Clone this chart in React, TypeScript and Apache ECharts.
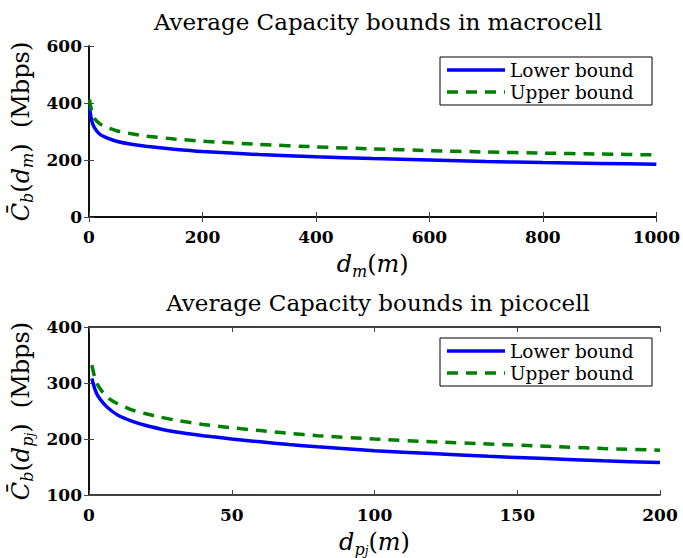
import React, { useEffect, useRef } from "react";
import * as echarts from "echarts";

// ---- Data ----
const macroX = [1, 2, 5, 10, 20, 35, 50, 75, 100, 150, 200, 300, 400, 500, 600, 700, 800, 900, 1000];
const macroLower = [390, 370, 336, 312, 289, 275, 265, 255, 248, 238, 230, 219, 211, 205, 200, 195, 191, 188, 185];
const macroUpper = [412, 398, 370, 345, 326, 312, 302, 292, 284, 274, 266, 255, 246, 239, 233, 228, 224, 221, 218];

const picoX = [1, 2, 3, 5, 7, 10, 15, 20, 25, 30, 40, 50, 60, 70, 80, 100, 120, 140, 160, 180, 200];
const picoLower = [308, 290, 278, 264, 254, 243, 232, 224, 218, 213, 206, 200, 195, 190, 186, 179, 174, 169, 165, 161, 158];
const picoUpper = [332, 310, 297, 282, 272, 263, 252, 245, 239, 234, 226, 220, 215, 210, 206, 200, 195, 191, 187, 183, 180];

const seriesNames = ["Lower bound", "Upper bound"];
const titles = ["Average Capacity bounds in macrocell", "Average Capacity bounds in picocell"];
const macroXTicks = { min: 0, max: 1000, interval: 200 };
const macroYTicks = { min: 0, max: 600, interval: 200 };
const picoXTicks = { min: 0, max: 200, interval: 50 };
const picoYTicks = { min: 100, max: 400, interval: 100 };

const zip = (xs: number[], ys: number[]) => xs.map((x, i) => [x, ys[i]]);

const SERIF = "DejaVu Serif";
const BLUE = "#0000ff";
const GREEN = "#008000";
const DASH = [11, 8];

const rich = {
  ci: { fontFamily: SERIF, fontStyle: "italic", fontSize: 24, lineHeight: 30, verticalAlign: "middle", color: "#000" },
  n: { fontFamily: SERIF, fontSize: 24, lineHeight: 30, verticalAlign: "middle", color: "#000" },
  sb: { fontFamily: SERIF, fontStyle: "italic", fontSize: 16, lineHeight: 17, verticalAlign: "bottom", color: "#000" },
  ssb: { fontFamily: SERIF, fontStyle: "italic", fontSize: 12, lineHeight: 11, verticalAlign: "bottom", color: "#000" },
};

const tickStyle = { inside: true, length: 5, lineStyle: { color: "#444", width: 1 } };
const lineStyleAxis = { show: true, lineStyle: { color: "#000", width: 1.5 } };
const labelStyle = { fontFamily: SERIF, fontWeight: "bold", fontSize: 17, color: "#000", formatter: (v: number) => String(v) };

function mainX(gridIndex: number, t: any, name: string) {
  return {
    type: "value", gridIndex, position: "bottom", ...t,
    axisLine: lineStyleAxis, axisTick: tickStyle, splitLine: { show: false },
    axisLabel: { ...labelStyle, margin: 11 },
    name, nameLocation: "middle", nameGap: 32, nameTextStyle: { rich },
  };
}
function mirrorX(gridIndex: number, t: any) {
  return {
    type: "value", gridIndex, position: "top", ...t,
    axisLine: lineStyleAxis, axisTick: tickStyle, splitLine: { show: false }, axisLabel: { show: false },
  };
}
function mainY(gridIndex: number, t: any, name: string) {
  return {
    type: "value", gridIndex, position: "left", ...t,
    axisLine: lineStyleAxis, axisTick: tickStyle, splitLine: { show: false },
    axisLabel: { ...labelStyle, margin: 7 },
    name, nameLocation: "middle", nameRotate: 90, nameGap: 50, nameTextStyle: { rich },
  };
}
function mirrorY(gridIndex: number, t: any) {
  return {
    type: "value", gridIndex, position: "right", ...t,
    axisLine: lineStyleAxis, axisTick: tickStyle, splitLine: { show: false }, axisLabel: { show: false },
  };
}

function lineSeries(name: string, data: number[][], axisIdx: number, dashed: boolean) {
  return {
    type: "line", name, data, xAxisIndex: axisIdx, yAxisIndex: axisIdx,
    showSymbol: false, symbol: "none", smooth: 0.2,
    lineStyle: dashed
      ? { color: GREEN, width: 3.5, type: DASH }
      : { color: BLUE, width: 3.5, type: "solid" },
    itemStyle: { color: dashed ? GREEN : BLUE },
  };
}

function legendText(text: string, y: number) {
  return {
    type: "text", x: 510, y,
    style: { text, fontFamily: SERIF, fontSize: 18.5, lineHeight: 21, fill: "#000", textVerticalAlign: "middle", verticalAlign: "middle" },
  };
}

function legendGraphic(top: number) {
  const rows = [top + 13, top + 35];
  return {
    type: "group", z: 100,
    children: [
      { type: "rect", shape: { x: 440, y: top, width: 212, height: 48 }, style: { fill: "#fff", stroke: "#000", lineWidth: 1 } },
      { type: "line", shape: { x1: 447, y1: rows[0], x2: 505, y2: rows[0] }, style: { stroke: BLUE, lineWidth: 3.5 } },
      { type: "line", shape: { x1: 447, y1: rows[1], x2: 505, y2: rows[1] }, style: { stroke: GREEN, lineWidth: 3.5, lineDash: DASH } },
      legendText(seriesNames[0], rows[0]),
      legendText(seriesNames[1], rows[1]),
    ],
  };
}

function titleGraphic(text: string, y: number) {
  return {
    type: "text", x: 378, y,
    style: { text, fontFamily: SERIF, fontSize: 23, fill: "#000", textAlign: "center", textVerticalAlign: "middle", align: "center", verticalAlign: "middle" },
  };
}

export default function App() {
  const ref = useRef<HTMLDivElement>(null);
  useEffect(() => {
    if (!ref.current) return;
    const chart = echarts.init(ref.current, undefined, { renderer: "svg" });
    chart.setOption({
      animation: false,
      backgroundColor: "#fff",
      grid: [
        { left: 89, right: 23, top: 46, height: 171 },
        { left: 89, right: 23, top: 327, height: 171 },
      ],
      xAxis: [
        mainX(0, macroXTicks, "{ci|d}{sb|m}{n|(}{ci|m}{n|)}"),
        mirrorX(0, macroXTicks),
        mainX(1, picoXTicks, "{ci|d}{sb|p}{ssb|j}{n|(}{ci|m}{n|)}"),
        mirrorX(1, picoXTicks),
      ],
      yAxis: [
        mainY(0, macroYTicks, "{ci|C\u0304}{sb|b}{n|(}{ci|d}{sb|m}{n|)  (Mbps)}"),
        mirrorY(0, macroYTicks),
        mainY(1, picoYTicks, "{ci|C\u0304}{sb|b}{n|(}{ci|d}{sb|p}{ssb|j}{n|)  (Mbps)}"),
        mirrorY(1, picoYTicks),
      ],
      graphic: [
        titleGraphic(titles[0], 22),
        titleGraphic(titles[1], 303),
        legendGraphic(57),
        legendGraphic(338),
      ],
      series: [
        lineSeries(seriesNames[0], zip(macroX, macroLower), 0, false),
        lineSeries(seriesNames[1], zip(macroX, macroUpper), 0, true),
        lineSeries(seriesNames[0], zip(picoX, picoLower), 2, false),
        lineSeries(seriesNames[1], zip(picoX, picoUpper), 2, true),
      ],
    });
    return () => chart.dispose();
  }, []);
  return (
    <div
      ref={ref}
      style={{ position: "fixed", left: 0, top: 0, width: 683, height: 558 }}
    />
  );
}
